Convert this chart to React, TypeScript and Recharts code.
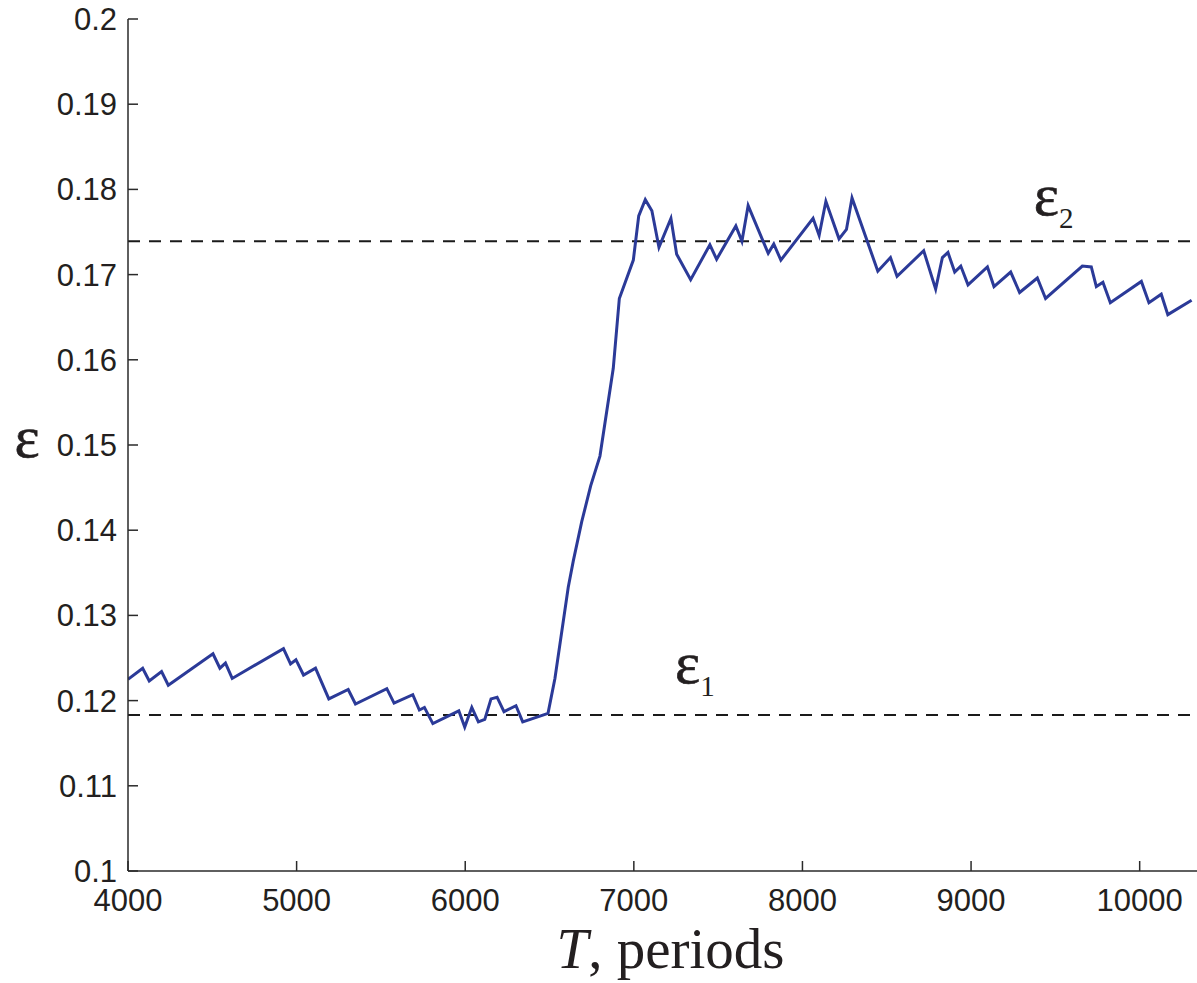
import React from 'react';
import { LineChart, Line, XAxis, YAxis, ReferenceLine, ReferenceDot } from 'recharts';

const periods = [4000,4087,4126,4199,4239,4504,4545,4578,4618,4922,4964,4996,5041,5112,5191,5306,5349,5535,5578,5689,5728,5758,5808,5962,5997,6039,6078,6116,6153,6189,6230,6301,6341,6491,6532,6611,6641,6691,6744,6799,6878,6914,6997,7029,7068,7107,7149,7220,7254,7337,7451,7491,7605,7641,7678,7797,7830,7872,8063,8099,8139,8217,8261,8294,8447,8522,8561,8719,8790,8830,8863,8903,8939,8982,9097,9136,9235,9288,9393,9442,9660,9713,9743,9782,9826,10010,10055,10128,10167,10308];

const epsilon = [0.1225,0.1238,0.1223,0.1234,0.1218,0.1255,0.1238,0.1244,0.1226,0.1261,0.1243,0.1248,0.1230,0.1238,0.1202,0.1213,0.1196,0.1214,0.1197,0.1207,0.1189,0.1192,0.1173,0.1188,0.1169,0.1192,0.1175,0.1178,0.1202,0.1204,0.1187,0.1194,0.1175,0.1185,0.1226,0.1333,0.1364,0.1410,0.1452,0.1487,0.1590,0.1672,0.1717,0.1769,0.1788,0.1775,0.1732,0.1766,0.1724,0.1694,0.1735,0.1718,0.1757,0.1739,0.1781,0.1725,0.1736,0.1717,0.1766,0.1746,0.1786,0.1742,0.1753,0.1790,0.1704,0.1720,0.1698,0.1728,0.1683,0.1720,0.1726,0.1703,0.1710,0.1688,0.1709,0.1686,0.1703,0.1679,0.1696,0.1672,0.1710,0.1709,0.1686,0.1691,0.1667,0.1692,0.1667,0.1677,0.1653,0.1670];

const xTicks = [4000, 5000, 6000, 7000, 8000, 9000, 10000];
const yTicks = [0.1, 0.11, 0.12, 0.13, 0.14, 0.15, 0.16, 0.17, 0.18, 0.19, 0.2];
const yTickLabels = ['0.1', '0.11', '0.12', '0.13', '0.14', '0.15', '0.16', '0.17', '0.18', '0.19', '0.2'];

const eps1 = 0.1183;
const eps2 = 0.1739;
const eps1LabelPos = { t: 7362, e: 0.1221 };
const eps2LabelPos = { t: 9490, e: 0.1770 };

const data = periods.map((t, i) => ({ t, e: epsilon[i] }));

const AXIS = '#2a2a2a';
const SANS = '"Liberation Sans", Arial, Helvetica, sans-serif';
const SERIF = '"Liberation Serif", "Times New Roman", Times, serif';

const YTick = (props: any) => {
  const { x, y, payload } = props;
  const idx = yTicks.findIndex((v) => Math.abs(v - payload.value) < 1e-9);
  return (
    <g>
      <line x1={x} x2={x + 10} y1={y} y2={y} stroke={AXIS} strokeWidth={1.5} />
      <text x={x - 11} y={y} dy={11} textAnchor="end" fontSize={31} fontFamily={SANS} fill="#231f20">
        {idx >= 0 ? yTickLabels[idx] : String(payload.value)}
      </text>
    </g>
  );
};

const XTick = (props: any) => {
  const { x, y, payload } = props;
  return (
    <g>
      <line x1={x} x2={x} y1={y} y2={y - 10} stroke={AXIS} strokeWidth={1.5} />
      <text x={x} y={y + 40} textAnchor="middle" fontSize={31} fontFamily={SANS} fill="#231f20">
        {payload.value}
      </text>
    </g>
  );
};

const EpsLabel = (sub: string) => (props: any) => {
  const vb = props.viewBox || {};
  const cx = vb.cx !== undefined ? vb.cx : (vb.x || 0) + (vb.width || 0) / 2;
  const cy = vb.cy !== undefined ? vb.cy : (vb.y || 0) + (vb.height || 0) / 2;
  return (
    <text x={cx} y={cy} textAnchor="middle" fontFamily={SERIF} fill="#231f20">
      <tspan fontSize={60} stroke="#231f20" strokeWidth={0.6}>ε</tspan>
      <tspan fontSize={29} dy={13}>{sub}</tspan>
    </text>
  );
};

const YLabel = (props: any) => {
  const { viewBox } = props;
  return (
    <text x={viewBox.x + 27} y={viewBox.y + viewBox.height / 2 + 12} textAnchor="middle" fontSize={60} fontFamily={SERIF} fill="#231f20" stroke="#231f20" strokeWidth={0.6}>
      ε
    </text>
  );
};

const XLabel = (props: any) => {
  const { viewBox } = props;
  return (
    <text x={viewBox.x + viewBox.width / 2 + 8} y={viewBox.y + 97} textAnchor="middle" fontSize={57} fontFamily={SERIF} fill="#231f20">
      <tspan fontStyle="italic">T</tspan>
      <tspan>, periods</tspan>
    </text>
  );
};

export default function App() {
  return (
    <div style={{ position: 'absolute', left: 0, top: 0, background: '#fff' }}>
      <LineChart width={1197} height={983} data={data} margin={{ top: 19, right: 0, left: 0, bottom: 0 }}>
        <XAxis
          dataKey="t"
          type="number"
          domain={[4000, 10340]}
          ticks={xTicks}
          height={112}
          tickSize={0}
          tickMargin={0}
          tickLine={false}
          axisLine={{ stroke: AXIS, strokeWidth: 1.5 }}
          tick={<XTick />}
          allowDataOverflow
          label={<XLabel />}
        />
        <YAxis
          type="number"
          domain={[0.1, 0.2]}
          ticks={yTicks}
          width={128}
          tickSize={0}
          tickMargin={0}
          tickLine={false}
          axisLine={{ stroke: AXIS, strokeWidth: 1.5 }}
          tick={<YTick />}
          allowDataOverflow
          label={<YLabel />}
        />
        <ReferenceLine y={eps1} stroke="#1a1a1a" strokeWidth={2} strokeDasharray="12 9" />
        <ReferenceLine y={eps2} stroke="#1a1a1a" strokeWidth={2} strokeDasharray="12 9" />
        <Line
          type="linear"
          dataKey="e"
          stroke="#2b3a98"
          strokeWidth={3}
          dot={false}
          isAnimationActive={false}
          strokeLinejoin="miter"
        />
        <ReferenceDot x={eps1LabelPos.t} y={eps1LabelPos.e} r={1} fill="none" stroke="none" label={EpsLabel('1')} />
        <ReferenceDot x={eps2LabelPos.t} y={eps2LabelPos.e} r={1} fill="none" stroke="none" label={EpsLabel('2')} />
      </LineChart>
    </div>
  );
}
